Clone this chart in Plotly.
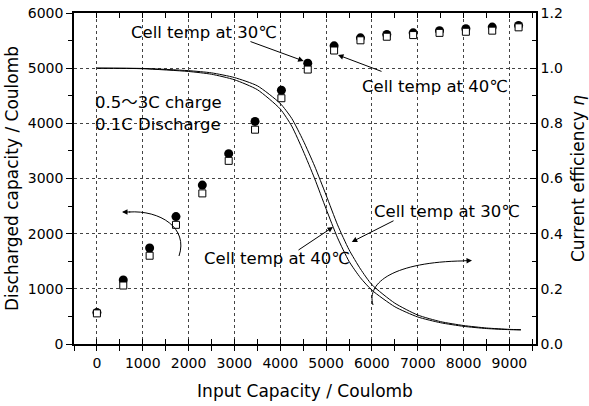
import plotly.graph_objects as go

# ---- data -------------------------------------------------------------
input_cap = [0, 575, 1150, 1725, 2300, 2875, 3450, 4025, 4600, 5175,
             5750, 6325, 6900, 7475, 8050, 8625, 9200]
discharge_30 = [570, 1160, 1740, 2310, 2880, 3450, 4035, 4600, 5090, 5405,
                5550, 5610, 5640, 5680, 5715, 5745, 5775]
discharge_40 = [555, 1060, 1600, 2160, 2730, 3320, 3885, 4455, 4975, 5320,
                5505, 5570, 5600, 5640, 5660, 5680, 5740]

eff_x = [0, 1000, 2000, 2500, 3000, 3500, 4000, 4250, 4500, 4750, 5000,
         5250, 5500, 5750, 6000, 6500, 7000, 7500, 8000, 8500, 9000, 9250]
eff_40 = [1.000, 0.998, 0.988, 0.978, 0.958, 0.922, 0.852, 0.790, 0.700,
          0.600, 0.490, 0.385, 0.300, 0.240, 0.195, 0.135, 0.098, 0.077,
          0.064, 0.056, 0.052, 0.051]
eff_30 = [1.000, 0.999, 0.991, 0.983, 0.966, 0.936, 0.872, 0.818, 0.738,
          0.645, 0.540, 0.432, 0.342, 0.272, 0.215, 0.148, 0.105, 0.081,
          0.067, 0.058, 0.053, 0.052]

FONT = "DejaVu Sans, Noto Sans CJK JP"

fig = go.Figure()

# current-efficiency curves (right axis)
fig.add_trace(go.Scatter(x=eff_x, y=eff_40, mode="lines", yaxis="y2",
                         line=dict(color="black", width=1, shape="spline", smoothing=0.6),
                         name="η 40℃", showlegend=False))
fig.add_trace(go.Scatter(x=eff_x, y=eff_30, mode="lines", yaxis="y2",
                         line=dict(color="black", width=1, shape="spline", smoothing=0.6),
                         name="η 30℃", showlegend=False))

# discharged capacity (left axis); squares on the inner-tick axis x3
fig.add_trace(go.Scatter(x=input_cap, y=discharge_40, mode="markers", xaxis="x3",
                         marker=dict(symbol="square", size=7, color="white",
                                     line=dict(color="black", width=1)),
                         name="40℃", showlegend=False))
fig.add_trace(go.Scatter(x=input_cap, y=discharge_30, mode="markers",
                         marker=dict(symbol="circle", size=9, color="black",
                                     line=dict(color="black", width=0)),
                         name="30℃", showlegend=False))

XR = [-500, 9580]
grid = dict(showgrid=True, gridcolor="#444", gridwidth=1, griddash="dot")
TICKF = dict(size=14)
TITLEF = dict(size=17)

fig.update_layout(
    width=589, height=406,
    margin=dict(l=74, r=53, t=13, b=62, autoexpand=False),
    paper_bgcolor="white", plot_bgcolor="white",
    font=dict(family=FONT, size=15, color="black"),
    xaxis=dict(range=XR, dtick=1000, tick0=0, ticks="outside", ticklen=5,
               tickwidth=1.3, tickcolor="black", automargin=False, tickfont=TICKF,
               minor=dict(dtick=500, tick0=0, ticks="outside", ticklen=5,
                          tickwidth=1.3, tickcolor="black", showgrid=False),
               showline=True, linecolor="black", linewidth=1.6, zeroline=False,
               title=dict(text="Input Capacity / Coulomb", font=TITLEF, standoff=16),
               **grid),
    xaxis3=dict(range=XR, overlaying="x", matches="x", side="bottom",
                ticks="inside", ticklen=5, tickwidth=1.3, tickcolor="black",
                dtick=1000, tick0=0, automargin=False,
                minor=dict(dtick=500, tick0=0, ticks="inside", ticklen=5,
                           tickwidth=1.3, tickcolor="black"),
                showticklabels=False, showgrid=False, zeroline=False,
                showline=True, linecolor="black", linewidth=1.6, mirror="ticks"),
    yaxis=dict(range=[0, 6000], dtick=1000, ticks="outside", ticklen=6,
               tickwidth=1.3, tickcolor="black", automargin=False, tickfont=TICKF,
               minor=dict(dtick=500, ticks="outside", ticklen=4,
                          tickwidth=1.3, tickcolor="black", showgrid=False),
               showline=True, linecolor="black", linewidth=1.6, zeroline=False,
               title=dict(text="Discharged capacity / Coulomb", font=TITLEF, standoff=5),
               **grid),
    yaxis2=dict(range=[0, 1.2], dtick=0.2, tickformat=".1f", overlaying="y",
                side="right", ticks="inside", ticklen=6, tickwidth=1.3,
                tickcolor="black", automargin=False, tickfont=TICKF,
                minor=dict(dtick=0.1, ticks="inside", ticklen=4,
                           tickwidth=1.3, tickcolor="black"),
                showline=True, linecolor="black", linewidth=1.6,
                showgrid=False, zeroline=False,
                title=dict(text="Current efficiency <i>η</i>", font=TITLEF, standoff=10)),
)

# text labels
labels = [
    ("Cell temp at 30℃", 2337, 5655, "center"),
    ("Cell temp at 40℃", 7377, 4659, "center"),
    ("0.5～3C charge", -85, 4369, "left"),
    ("0.1C Discharge", -85, 3970, "left"),
    ("Cell temp at 30℃", 7639, 2393, "center"),
    ("Cell temp at 40℃", 3929, 1559, "center"),
]
for txt, x, y, anchor in labels:
    fig.add_annotation(x=x, y=y, xref="x", yref="y", text=txt, showarrow=False,
                       xanchor=anchor, yanchor="middle", font=dict(size=16.5))

# straight pointer arrows: (head x, head y, tail x, tail y)
arrows = [
    (4510, 5130, 3318, 5492),
    (5260, 5239, 6242, 4931),
    (5560, 1850, 6504, 2248),
    (5151, 2121, 4366, 1686),
    # heads of the curved arrows
    (547, 2393, 760, 2393),
    (8184, 1514, 7960, 1507),
]
for hx, hy, tx, ty in arrows:
    fig.add_annotation(x=hx, y=hy, ax=tx, ay=ty, xref="x", yref="y",
                       axref="x", ayref="y", text="", showarrow=True,
                       arrowhead=2, arrowsize=1.1, arrowwidth=1, arrowcolor="black",
                       standoff=0, startstandoff=0)

# curved arrow bodies
fig.add_shape(type="path", xref="x", yref="y",
              path="M 1791,1595 C 2000,2103 1377,2429 700,2393",
              line=dict(color="black", width=1))
fig.add_shape(type="path", xref="x", yref="y",
              path="M 6024,707 C 5871,1124 6504,1486 8000,1506",
              line=dict(color="black", width=1))

fig.write_html("out.html")
